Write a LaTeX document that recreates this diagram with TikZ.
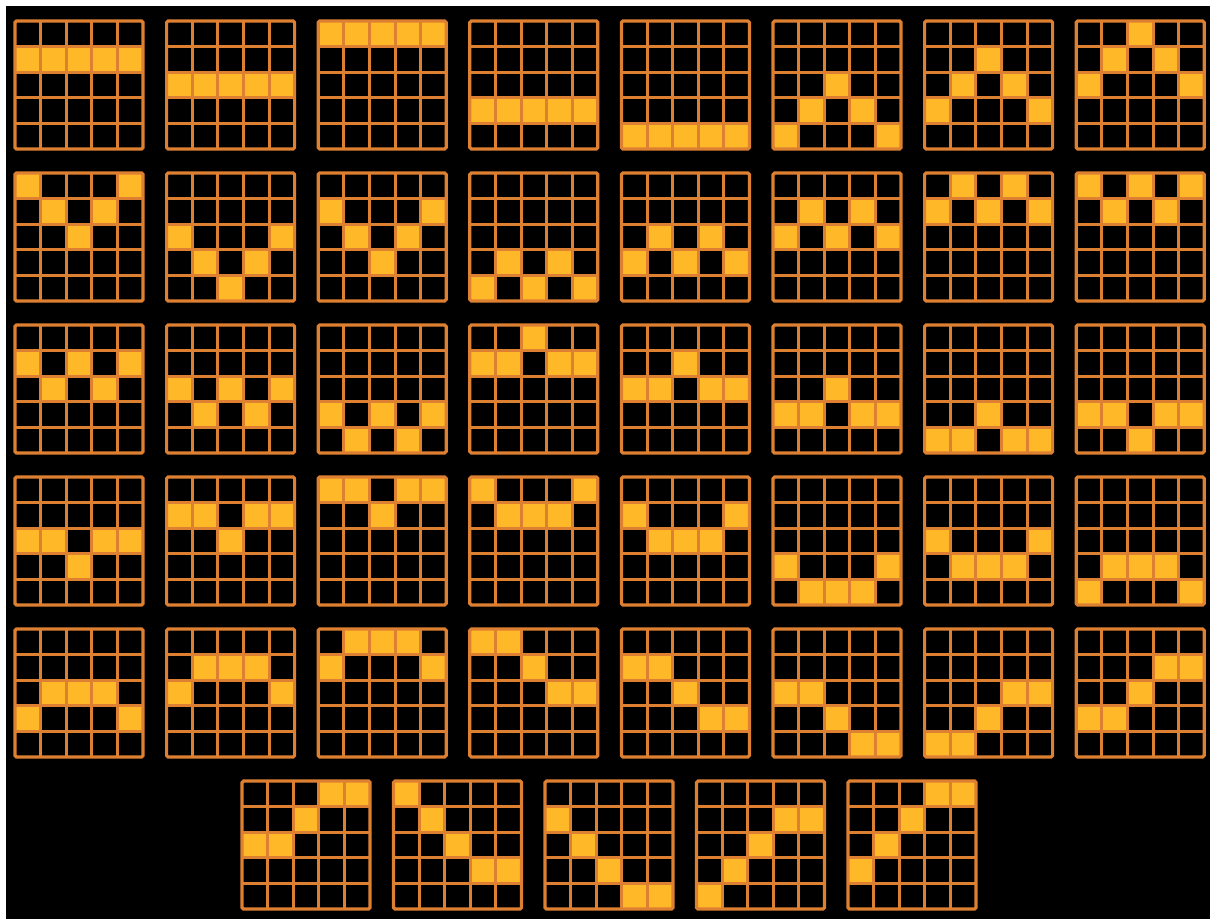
\documentclass[tikz,border=0pt]{standalone}
\usepackage{tikz}
\definecolor{lineor}{RGB}{222,128,50}
\definecolor{lit}{RGB}{255,184,40}

\begin{document}
\begin{tikzpicture}[x=1pt, y=-1pt,
    frame/.style={draw=lineor, line width=3.2pt, rounded corners=1.5pt},
    gridline/.style={draw=lineor, line width=3pt},
    litcell/.style={fill=lit}
]
    % Page and dark panel
    \fill[white] (0,0) rectangle (1210,919);
    \fill[black] (6,6) rectangle (1210,919);

    % Paylines: lit row of each of the five reels
    \foreach \pat [count=\i from 0] in {
        {1,1,1,1,1},{2,2,2,2,2},{0,0,0,0,0},{3,3,3,3,3},{4,4,4,4,4},{4,3,2,3,4},{3,2,1,2,3},{2,1,0,1,2},
        {0,1,2,1,0},{2,3,4,3,2},{1,2,3,2,1},{4,3,4,3,4},{3,2,3,2,3},{2,1,2,1,2},{1,0,1,0,1},{0,1,0,1,0},
        {1,2,1,2,1},{2,3,2,3,2},{3,4,3,4,3},{1,1,0,1,1},{2,2,1,2,2},{3,3,2,3,3},{4,4,3,4,4},{3,3,4,3,3},
        {2,2,3,2,2},{1,1,2,1,1},{0,0,1,0,0},{0,1,1,1,0},{1,2,2,2,1},{3,4,4,4,3},{2,3,3,3,2},{4,3,3,3,4},
        {3,2,2,2,3},{2,1,1,1,2},{1,0,0,0,1},{0,0,1,2,2},{1,1,2,3,3},{2,2,3,4,4},{4,4,3,2,2},{3,3,2,1,1},
        {2,2,1,0,0},{0,1,2,3,3},{1,2,3,4,4},{4,3,2,1,1},{3,2,1,0,0}} {
        \pgfmathsetmacro\bx{\i<40 ? 15+151.6*mod(\i,8) : 242+151.5*(\i-40)}
        \pgfmathsetmacro\by{\i<40 ? 21+152*floor(\i/8) : 781}
        \begin{scope}[shift={(\bx,\by)}]
            \fill[black] (0,0) rectangle (128,128);
            \foreach \r [count=\c from 0] in \pat
                \fill[litcell] (\c*25.6,\r*25.6) rectangle ++(25.6,25.6);
            \foreach \k in {1,...,4} {
                \draw[gridline] (\k*25.6,0) -- (\k*25.6,128);
                \draw[gridline] (0,\k*25.6) -- (128,\k*25.6);
            }
            \draw[frame] (0,0) rectangle (128,128);
        \end{scope}
    }
\end{tikzpicture}
\end{document}
